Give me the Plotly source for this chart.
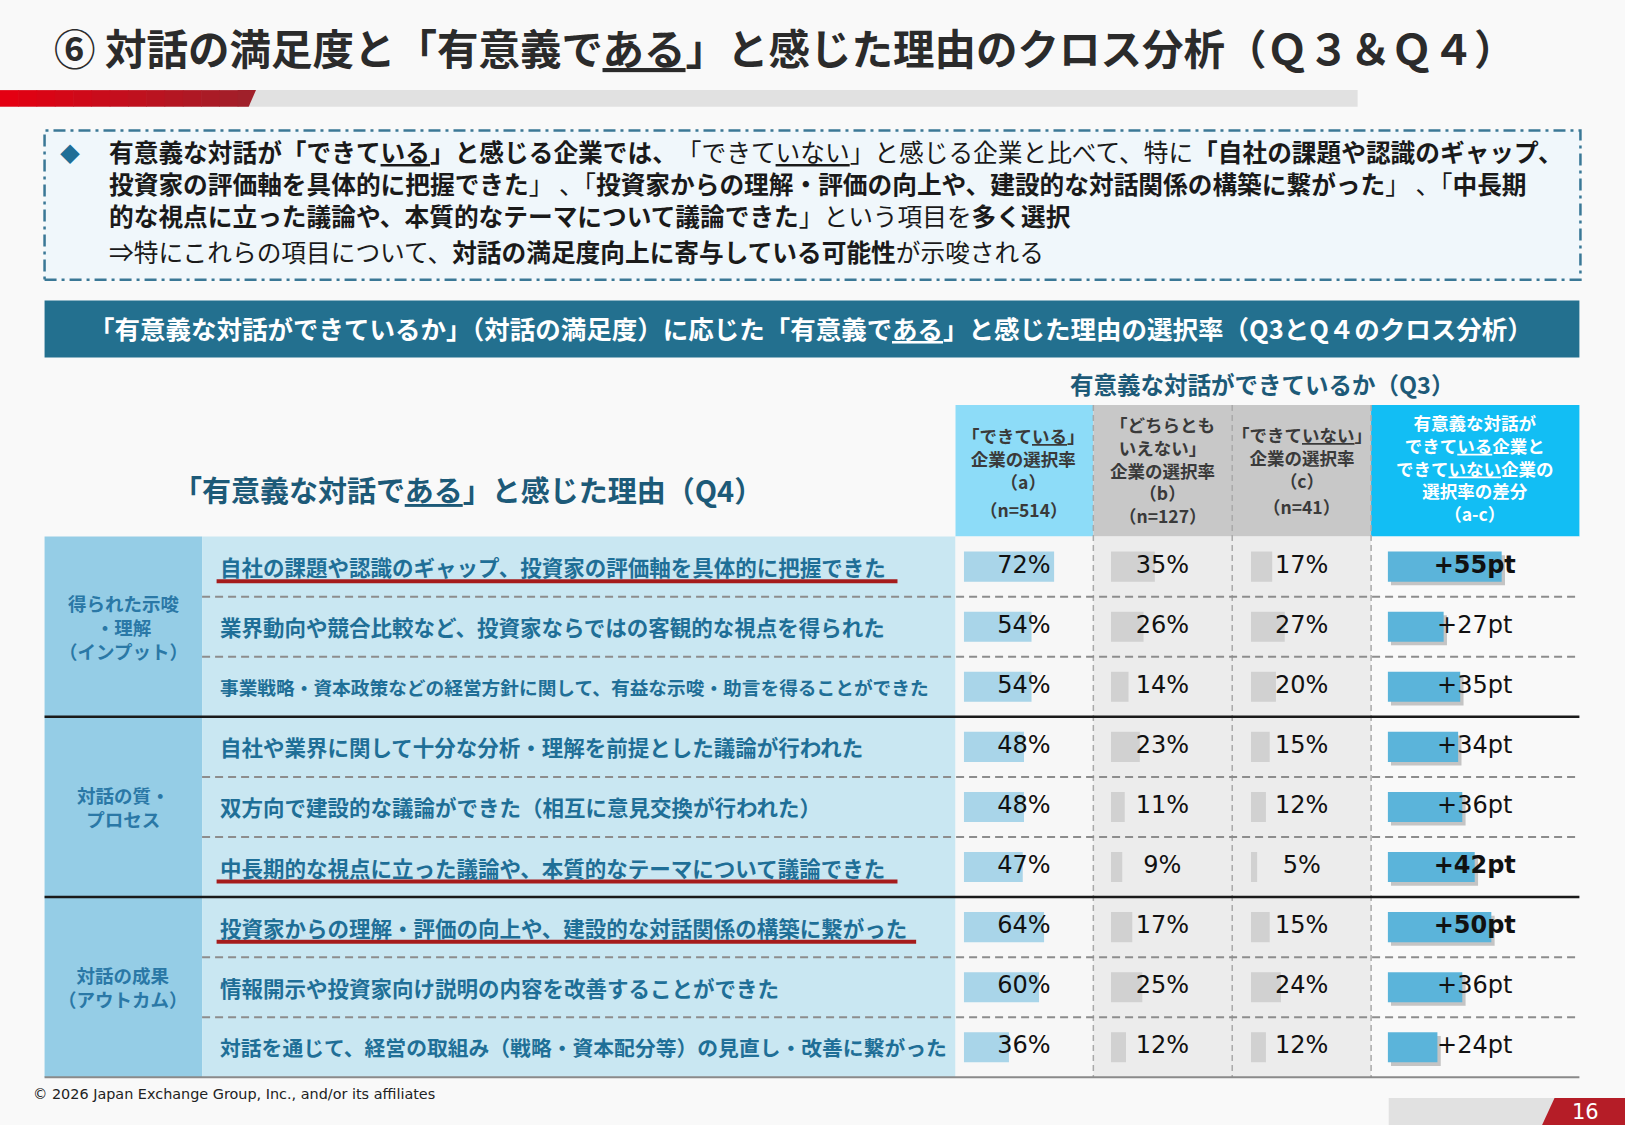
import plotly.graph_objects as go

# slide was measured on a 1568x1086 grid, page is 1625x1125
W, H = 1625, 1125
SW, SH = 1568, 1086
CJK = "Noto Sans CJK JP"
NUM = "DejaVu Sans"


def px(x):
    return x / SW


def py(y):
    return 1 - y / SH


groups = ["得られた示唆<br>・理解<br>（インプット）", "対話の質・<br>プロセス", "対話の成果<br>（アウトカム）"]
group_rows = [(0, 3), (3, 6), (6, 9)]

items = [
    "自社の課題や認識のギャップ、投資家の評価軸を具体的に把握できた",
    "業界動向や競合比較など、投資家ならではの客観的な視点を得られた",
    "事業戦略・資本政策などの経営方針に関して、有益な示唆・助言を得ることができた",
    "自社や業界に関して十分な分析・理解を前提とした議論が行われた",
    "双方向で建設的な議論ができた（相互に意見交換が行われた）",
    "中長期的な視点に立った議論や、本質的なテーマについて議論できた",
    "投資家からの理解・評価の向上や、建設的な対話関係の構築に繋がった",
    "情報開示や投資家向け説明の内容を改善することができた",
    "対話を通じて、経営の取組み（戦略・資本配分等）の見直し・改善に繋がった",
]
rate_a = [72, 54, 54, 48, 48, 47, 64, 60, 36]   # できている (n=514)
rate_b = [35, 26, 14, 23, 11, 9, 17, 25, 12]    # どちらともいえない (n=127)
rate_c = [17, 27, 20, 15, 12, 5, 15, 24, 12]    # できていない (n=41)
diff = [55, 27, 35, 34, 36, 42, 50, 36, 24]     # a-c, pt
key_items = [0, 5, 6]

rows = list(range(len(items)))
TOP, ROW = 518, 58
BOTTOM = TOP + ROW * len(items)

fig = go.Figure()

# column a / b / c bars
for ax, vals, col in [("x", rate_a, "#a9d5e9"), ("x2", rate_b, "#d1d1d1"), ("x3", rate_c, "#d1d1d1")]:
    fig.add_trace(go.Bar(
        x=vals, y=rows, orientation="h", xaxis=ax, yaxis="y",
        width=0.5, offset=-0.25, marker=dict(color=col, line=dict(width=0)),
        hoverinfo="skip",
    ))

# diff bars with a little drop shadow
fig.add_trace(go.Bar(
    x=diff, y=rows, orientation="h", xaxis="x4", yaxis="y", base=1.6,
    width=0.5, offset=-0.19, marker=dict(color="rgba(40,40,40,0.25)", line=dict(width=0)),
    hoverinfo="skip",
))
fig.add_trace(go.Bar(
    x=diff, y=rows, orientation="h", xaxis="x4", yaxis="y",
    width=0.5, offset=-0.25, marker=dict(color="#5bb4da", line=dict(width=0)),
    hoverinfo="skip",
))

# value labels
labels = [
    ("x", 48, [f"{v}%" for v in rate_a]),
    ("x2", 41, [f"{v}%" for v in rate_b]),
    ("x3", 40.5, [f"{v}%" for v in rate_c]),
    ("x4", 42, [f"<b>+{v}pt</b>" if i in key_items else f"+{v}pt" for i, v in enumerate(diff)]),
]
for ax, xpos, txt in labels:
    fig.add_trace(go.Scatter(
        x=[xpos] * len(rows), y=rows, mode="text", text=txt, xaxis=ax, yaxis="y",
        textposition="middle center", cliponaxis=False,
        textfont=dict(family=NUM, size=24, color="#111111"), hoverinfo="skip",
    ))

shapes = []


def rect(x0, y0, x1, y1, fill, line=None):
    s = dict(type="rect", xref="paper", yref="paper", x0=px(x0), x1=px(x1), y0=py(y1), y1=py(y0),
             fillcolor=fill, layer="below", line=dict(width=0))
    if line:
        s["line"] = line
    shapes.append(s)


def hline(x0, x1, y, color, width, dash="solid"):
    shapes.append(dict(type="line", xref="paper", yref="paper", x0=px(x0), x1=px(x1), y0=py(y), y1=py(y),
                       line=dict(color=color, width=width, dash=dash), layer="below"))


def vline(x, y0, y1, color, width, dash="solid"):
    shapes.append(dict(type="line", xref="paper", yref="paper", x0=px(x), x1=px(x), y0=py(y0), y1=py(y1),
                       line=dict(color=color, width=width, dash=dash), layer="below"))


def poly(pts, fill):
    d = "M " + " L ".join(f"{px(a)},{py(b)}" for a, b in pts) + " Z"
    shapes.append(dict(type="path", xref="paper", yref="paper", path=d, fillcolor=fill,
                       line=dict(width=0), layer="below"))


# header ribbon: grey bar with a red gradient head
rect(0, 87, 1310, 103, "#e1e1e1")
n_sl = 14
c0, c1 = (228, 0, 18), (160, 32, 42)
for i in range(n_sl):
    t = i / (n_sl - 1)
    col = "rgb({},{},{})".format(*[int(a + (b - a) * t) for a, b in zip(c0, c1)])
    xa, xb = 247 * i / n_sl, 247 * (i + 1) / n_sl
    if i == n_sl - 1:
        poly([(xa, 87), (247, 87), (240, 103), (xa, 103)], col)
    else:
        poly([(xa, 87), (xb + 0.6, 87), (xb + 0.6, 103), (xa, 103)], col)

# summary box and title band
rect(43, 126, 1525, 270, "#f0f7fb", dict(color="#3a7896", width=2.5, dash="12px,5px,3px,5px"))
rect(43, 290, 1524, 345, "#23708f")

# column headers
rect(922, 391, 1055, 518, "#8ddcf8")
rect(1055, 391, 1323, 518, "#c8c8c8")
rect(1323, 391, 1524, 518, "#12bef4")

# table body
rect(43, TOP, 195, BOTTOM, "#95cde6")
rect(195, TOP, 922, BOTTOM, "#c9e7f2")
rect(922, TOP, 1055, BOTTOM, "#f7f7f7")
rect(1055, TOP, 1323, BOTTOM, "#ececec")
rect(1323, TOP, 1524, BOTTOM, "#f9f9f9")

for xv in [1055, 1189, 1323]:
    vline(xv, 391, BOTTOM, "#a9a9a9", 1.5, "6px,4px")

for g0, g1 in group_rows:
    for r in range(g0 + 1, g1):
        hline(195, 1524, TOP + ROW * r, "#8d8d8d", 2, "8px,5px")
    if g0 > 0:
        hline(43, 1524, TOP + ROW * g0, "#1a1a1a", 2.5)
hline(43, 1524, BOTTOM, "#8a8a8a", 2)

# red underline under the highlighted reasons
underline_end = {0: 866, 5: 866, 6: 884}
for r in key_items:
    yy = TOP + ROW * r + ROW / 2 + 14
    hline(209, underline_end[r], yy, "#a51c1c", 4)

# page footer
rect(1340, 1060, 1500, 1086, "#e1e1e1")
poly([(1500, 1060), (1568, 1060), (1568, 1086), (1488, 1086)], "#b51d27")

ann = []


def note(x, y, text, size, color="#1a1a1a", xanchor="center", family=CJK, align="center"):
    ann.append(dict(x=px(x), y=py(y), xref="paper", yref="paper", text=text, showarrow=False,
                    xanchor=xanchor, yanchor="middle", align=align,
                    font=dict(family=family, size=size, color=color)))


note(50, 45, "<b>⑥ 対話の満足度と「有意義で<u>ある</u>」と感じた理由のクロス分析（Ｑ３＆Ｑ４）</b>",
     41.5, "#2b2b2b", "left")

note(68, 148, "◆", 20, "#1f6e96")
summary = (
    "<b>有意義な対話が「できて<u>いる</u>」と感じる企業では、</b>　「できて<u>いない</u>」と感じる企業と比べて、特に<b>「自社の課題や認識のギャップ、</b><br>"
    "<b>投資家の評価軸を具体的に把握できた</b>」 、「<b>投資家からの理解・評価の向上や、建設的な対話関係の構築に繋がった</b>」 、「<b>中長期</b><br>"
    "<b>的な視点に立った議論や、本質的なテーマについて議論できた</b>」という項目を<b>多く選択</b>"
)
note(103, 177, summary, 24.7, "#1a1a1a", "left", align="left")
note(103, 242, "⇒特にこれらの項目について、<b>対話の満足度向上に寄与している可能性</b>が示唆される",
     24.7, "#1a1a1a", "left", align="left")

note(783, 316, "<b>「有意義な対話ができているか」（対話の満足度）に応じた「有意義で<u>ある</u>」と感じた理由の選択率（Q3とQ４のクロス分析）</b>",
     25.5, "#ffffff")

note(1218, 371, "<b>有意義な対話ができているか（Q3）</b>", 23.5, "#1d5a78")
note(452, 472, "<b>「有意義な対話で<u>ある</u>」と感じた理由（Q4）</b>", 29, "#1d5a78")

hdr = "#3a3a3a"
hs = 17.5
note(988, 443, "<b>「できて<u>いる</u>」<br>企業の選択率<br>（a）</b>", hs, hdr)
note(988, 492, "<b>（n=514）</b>", hs, hdr)
note(1122, 443, "<b>「どちらとも<br>いえない」<br>企業の選択率<br>（b）</b>", hs, hdr)
note(1122, 498, "<b>（n=127）</b>", hs, hdr)
note(1256, 442, "<b>「できて<u>いない</u>」<br>企業の選択率<br>（c）</b>", hs, hdr)
note(1256, 489, "<b>（n=41）</b>", hs, hdr)
note(1423, 452, "<b>有意義な対話が<br>できて<u>いる</u>企業と<br>できて<u>いない</u>企業の<br>選択率の差分<br>（a-c）</b>",
     hs, "#ffffff")

for (g0, g1), g in zip(group_rows, groups):
    note(119, TOP + ROW * (g0 + g1) / 2, f"<b>{g}</b>", 18.5, "#2a78a6")

item_sizes = [21.5, 21.5, 18.7, 21.5, 21.5, 21.5, 21.5, 21.5, 20.8]
for r, t in enumerate(items):
    note(210, TOP + ROW * r + ROW / 2, f"<b>{t}</b>", item_sizes[r], "#1f6f97", "left", align="left")

note(30, 1056, "© 2026 Japan Exchange Group, Inc., and/or its affiliates", 14.4, "#222222", "left", family="DejaVu Sans")
note(1530, 1073, "16", 21, "#ffffff", family="DejaVu Sans")

axis_common = dict(visible=False, fixedrange=True, anchor="y")
fig.update_layout(
    width=W, height=H,
    margin=dict(l=0, r=0, t=0, b=0),
    paper_bgcolor="#f9f9f9", plot_bgcolor="rgba(0,0,0,0)",
    showlegend=False, barmode="overlay",
    xaxis=dict(domain=[px(930), px(1051)], range=[0, 100], **axis_common),
    xaxis2=dict(domain=[px(1072), px(1193)], range=[0, 100], **axis_common),
    xaxis3=dict(domain=[px(1207), px(1328)], range=[0, 100], **axis_common),
    xaxis4=dict(domain=[px(1339), px(1519)], range=[0, 90], **axis_common),
    yaxis=dict(domain=[py(BOTTOM), py(TOP)], range=[len(items) - 0.5, -0.5],
               visible=False, fixedrange=True),
    shapes=shapes,
    annotations=ann,
)

# page body has a default 8px margin; drop it so the slide fills the window
fig.write_html("out.html", config={"displayModeBar": False},
               post_script="document.body.style.margin='0px';document.body.style.overflow='hidden';")
